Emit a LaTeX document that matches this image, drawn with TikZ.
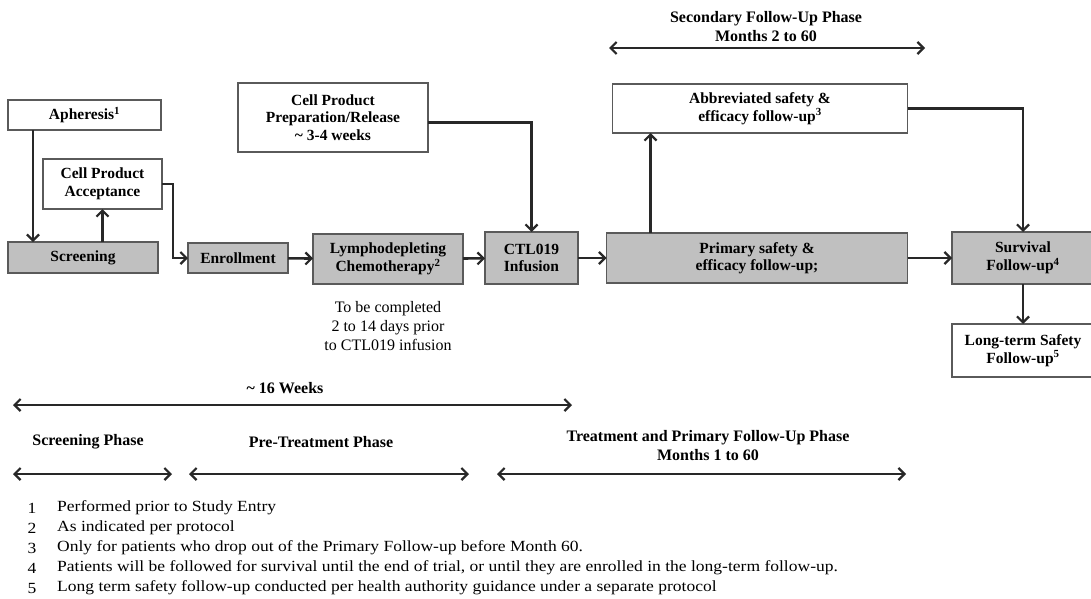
\documentclass[tikz,border=0pt]{standalone}
\usepackage{fontspec}
\setmainfont{Liberation Serif}
\newfontfamily\fnfont[FakeStretch=1.13]{Liberation Serif}
\usetikzlibrary{positioning,arrows.meta}
\definecolor{boxfill}{RGB}{192,192,192}
\definecolor{boxline}{RGB}{90,90,90}
\definecolor{arline}{RGB}{40,40,40}
\tikzset{
  blk/.style={draw=boxline,line width=1.8pt,align=center,font=\bfseries\fontsize{15.5}{17.5}\selectfont,inner sep=0pt,outer sep=0pt},
  gblk/.style={blk,fill=boxfill},
  wblk/.style={blk,fill=white},
  ar/.style={-{Straight Barb[length=6pt,width=12pt,line width=2.2pt]},line width=2.6pt,arline},
  dar/.style={{Straight Barb[length=6pt,width=12pt,line width=2.2pt]}-{Straight Barb[length=6pt,width=12pt,line width=2.2pt]},line width=2.6pt,arline},
  lbl/.style={align=center,font=\bfseries\fontsize{16}{20}\selectfont},
}

\begin{document}
\begin{tikzpicture}[x=1pt,y=-1pt,
  note/.style={align=center,font=\fontsize{16}{19}\selectfont},
  fnum/.style={inner sep=0pt,font=\fnfont\fontsize{15.5}{20}\selectfont},
  fn/.style={anchor=west,inner sep=0pt,font=\fnfont\fontsize{15.5}{20}\selectfont}]
  \fill[white] (0,0) rectangle (1091,598);
  \useasboundingbox (0,0) rectangle (1091,598);
  \node[wblk,minimum width=153,minimum height=30] (aph) at (84.5,115) {Apheresis\textsuperscript{1}};
  \node[wblk,minimum width=119,minimum height=50] (acc) at (102.5,184) {Cell Product\\Acceptance};
  \node[gblk,minimum width=150,minimum height=31] (scr) at (83,257.5) {Screening};
  \node[gblk,minimum width=100,minimum height=30] (enr) at (238,258) {Enrollment};
  \node[gblk,minimum width=150,minimum height=50] (lym) at (388,259) {Lymphodepleting\\Chemotherapy\textsuperscript{2}};
  \node[note] (done) at (388,326) {To be completed\\2 to 14 days prior\\to CTL019 infusion};
  \node[wblk,minimum width=190,minimum height=69] (prep) at (333,117.5) {Cell Product\\Preparation/Release\\\textasciitilde{} 3-4 weeks};
  \node[gblk,minimum width=93,minimum height=52] (ctl) at (531.5,258) {CTL019\\Infusion};
  \node[gblk,minimum width=301,minimum height=50] (prim) at (757,258) {Primary safety \&\\efficacy follow-up;};
  \node[wblk,minimum width=295,minimum height=49] (abb) at (760,108.5) {Abbreviated safety \&\\efficacy follow-up\textsuperscript{3}};
  \node[gblk,minimum width=142,minimum height=52] (surv) at (1023,258) {Survival\\Follow-up\textsuperscript{4}};
  \node[wblk,minimum width=142,minimum height=53] (lts) at (1023,350.5) {Long-term Safety\\Follow-up\textsuperscript{5}};
  \draw[ar] ([xshift=25pt]aph.south west) -- ([xshift=25pt]scr.north west);
  \draw[ar] (scr.north -| acc.south) -- (acc.south);
  \draw[ar] (acc.east) -- ++(11,0) |- (enr.west);
  \draw[ar] (enr) -- (lym);
  \draw[ar] (lym) -- (ctl);
  \draw[ar] (ctl) -- (prim);
  \draw[ar] (prim) -- (surv);
  \draw[ar] ([yshift=-5pt]prep.east) -| (ctl.north);
  \draw[ar] ([xshift=44pt]prim.north west) -- ([xshift=44pt]prim.north west |- abb.south);
  \draw[ar] (abb.east) -| (surv.north);
  \draw[ar] (surv) -- (lts);
  \node[lbl] (sec) at (766,27) {Secondary Follow-Up Phase\\[-1pt]Months 2 to 60};
  \coordinate (secA) at (609,48);
  \coordinate (secB) at (925,48);
  \draw[dar] (secA) -- (secB);
  \node[lbl] (wk) at (285,388) {\textasciitilde{} 16 Weeks};
  \coordinate (wkA) at (13,405);
  \coordinate (wkB) at (572,405);
  \draw[dar] (wkA) -- (wkB);
  \node[lbl] (scph) at (88,442) {Screening Phase};
  \node[lbl] (ptph) at (321,442) {Pre-Treatment Phase};
  \node[lbl] (trph) at (708,446) {Treatment and Primary Follow-Up Phase\\[-1pt]Months 1 to 60};
  \coordinate (scA) at (13,474);
  \coordinate (scB) at (172,474);
  \coordinate (ptA) at (189,474);
  \coordinate (ptB) at (469,474);
  \coordinate (trA) at (497,474);
  \coordinate (trB) at (906,474);
  \draw[dar] (scA) -- (scB);
  \draw[dar] (ptA) -- (ptB);
  \draw[dar] (trA) -- (trB);
  \node[fnum] (n1) at (32,508) {1};
  \node[fn] (f1) at (57,508) {Performed prior to Study Entry};
  \node[fnum] (n2) at (32,528) {2};
  \node[fn] (f2) at (57,528) {As indicated per protocol};
  \node[fnum] (n3) at (32,548) {3};
  \node[fn] (f3) at (57,548) {Only for patients who drop out of the Primary Follow-up before Month 60.};
  \node[fnum] (n4) at (32,568) {4};
  \node[fn] (f4) at (57,568) {Patients will be followed for survival until the end of trial, or until they are enrolled in the long-term follow-up.};
  \node[fnum] (n5) at (32,588) {5};
  \node[fn] (f5) at (57,588) {Long term safety follow-up conducted per health authority guidance under a separate protocol};
\end{tikzpicture}
\end{document}
